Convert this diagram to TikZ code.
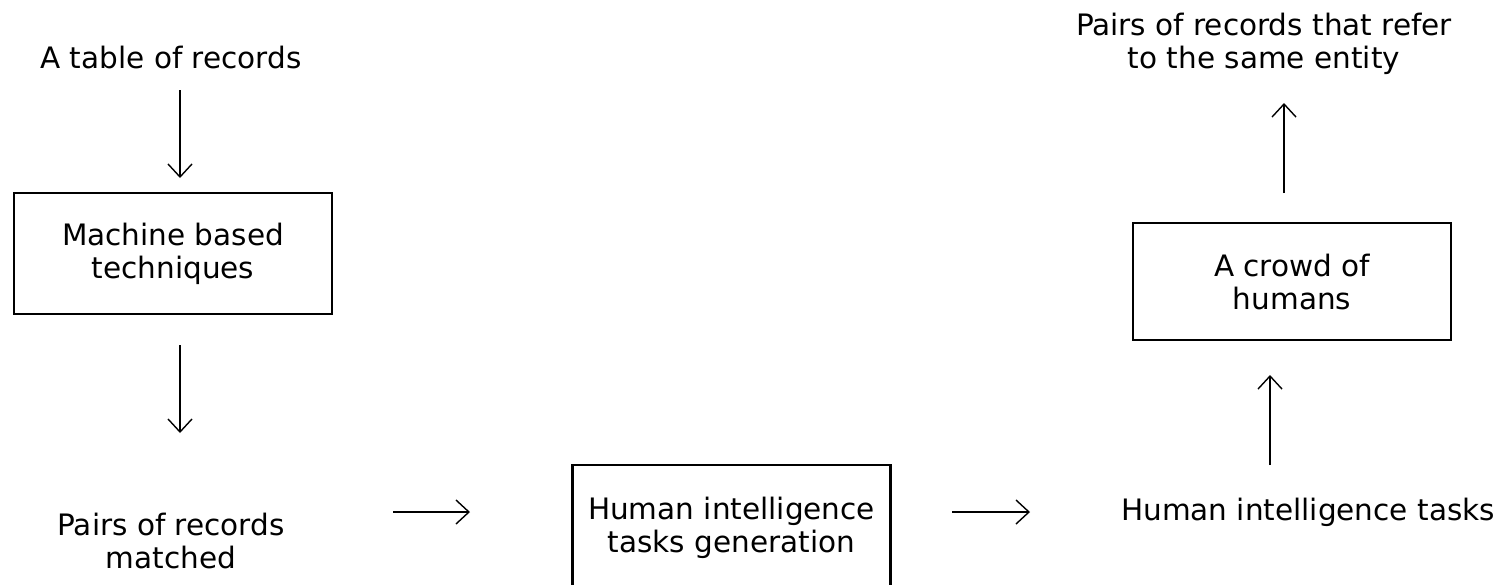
\documentclass[tikz,border=0pt]{standalone}
\usepackage{fontspec}
\setmainfont{DejaVu Sans}
\usetikzlibrary{arrows.meta}
\begin{document}
\begin{tikzpicture}[x=1pt,y=-1pt,
  label/.style={inner sep=0pt,align=center,font=\fontsize{29.5}{33}\selectfont},
  stage/.style={draw,line width=2.4pt,minimum width=318pt,inner sep=0pt,align=center,font=\fontsize{29.5}{33}\selectfont},
  arr/.style={line width=1.4pt,-{Straight Barb[length=13pt,width=24pt,line width=1.4pt]}}]
\useasboundingbox (0,0) rectangle (1503,584);

% left column
\node[label] (table) at (171,57) {A table of records};
\node[stage,minimum height=121pt] (machine) at (173,253.5) {Machine based\\techniques};
\node[label] (pairs) at (171,541) {Pairs of records\\matched};

% bottom row
\node[stage,minimum height=126pt] (hitgen) at (731.5,528) {Human intelligence\\tasks generation};
\node[label] (hits) at (1308,512) {Human intelligence tasks};

% right column
\node[stage,minimum height=117pt] (crowd) at (1292,281.5) {A crowd of\\humans};
\node[label] (result) at (1264,44) {Pairs of records that refer\\to the same entity};

% connector end points
\coordinate (a1s) at (180,90);   \coordinate (a1e) at (180,178);
\coordinate (a2s) at (180,345);  \coordinate (a2e) at (180,433);
\coordinate (a3s) at (393,512);  \coordinate (a3e) at (470,512);
\coordinate (a4s) at (952,512);  \coordinate (a4e) at (1030,512);
\coordinate (a5s) at (1270,465); \coordinate (a5e) at (1270,375);
\coordinate (a6s) at (1284,193); \coordinate (a6e) at (1284,103);

\draw[arr] (a1s) -- (a1e);
\draw[arr] (a2s) -- (a2e);
\draw[arr] (a3s) -- (a3e);
\draw[arr] (a4s) -- (a4e);
\draw[arr] (a5s) -- (a5e);
\draw[arr] (a6s) -- (a6e);
\end{tikzpicture}
\end{document}
